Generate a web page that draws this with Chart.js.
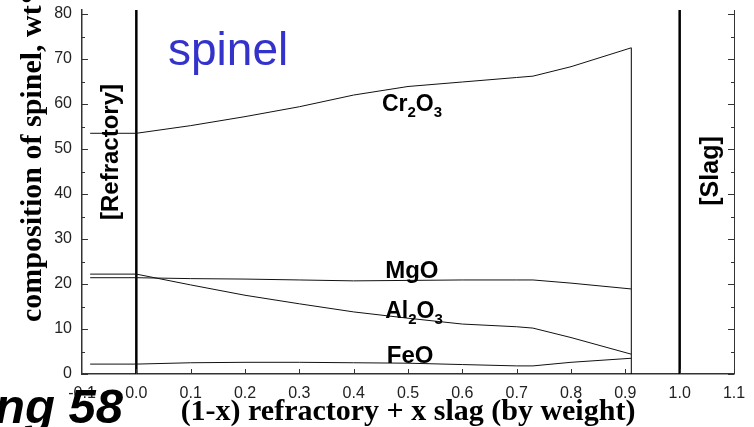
<!DOCTYPE html>
<html>
<head>
<meta charset="utf-8">
<title>Spinel composition</title>
<script src="https://cdn.jsdelivr.net/npm/chart.js@4.4.0/dist/chart.umd.min.js"></script>
<style>
  html, body { margin: 0; padding: 0; background: #fff; }
  #wrap { width: 754px; height: 427px; }
</style>
</head>
<body>
<div id="wrap"><canvas id="spinelChart" width="754" height="427"></canvas></div>
<script>
// weight fraction of slag in the mixture
const xSteps = [-0.085, 0.0, 0.1, 0.2, 0.3, 0.4, 0.5, 0.6, 0.7, 0.73, 0.8, 0.911];
// spinel composition, wt%
const cr2o3 = [53.5, 53.5, 55.2, 57.2, 59.4, 62.0, 63.9, 64.9, 65.9, 66.2, 68.3, 72.5];
const mgo   = [21.4, 21.4, 21.2, 21.1, 20.9, 20.7, 20.8, 20.9, 20.9, 20.9, 20.2, 18.9];
const al2o3 = [22.2, 22.2, 19.8, 17.5, 15.6, 13.8, 12.4, 11.1, 10.5, 10.2, 8.1, 4.4];
const feo   = [2.2, 2.2, 2.5, 2.6, 2.6, 2.5, 2.4, 2.1, 1.8, 1.8, 2.6, 3.5];

const xTicks = [-0.1, 0.0, 0.1, 0.2, 0.3, 0.4, 0.5, 0.6, 0.7, 0.8, 0.9, 1.0, 1.1];
const yTicks = [0, 10, 20, 30, 40, 50, 60, 70, 80];
const yMinor = [5, 15, 25, 35, 45, 55, 65, 75];
const yMax = 80.9;

const refractoryX = 0.0;
const slagX = 1.0;
const lastX = 0.911;

const pts = (xs, ys) => xs.map((x, i) => ({ x: x, y: ys[i] }));

// formula labels: [text, subscript?] pieces, anchored in data units
const formulaLabels = [
  { parts: [["Cr", 0], ["2", 1], ["O", 0], ["3", 1]], x: 0.452, y: 58.5, size: 23 },
  { parts: [["MgO", 0]], x: 0.458, y: 21.3, size: 24 },
  { parts: [["Al", 0], ["2", 1], ["O", 0], ["3", 1]], x: 0.458, y: 12.4, size: 23 },
  { parts: [["FeO", 0]], x: 0.461, y: 2.4, size: 24 }
];

function drawFormula(ctx, lbl, px, py) {
  let cx = px;
  lbl.parts.forEach(([t, sub]) => {
    const size = sub ? Math.round(lbl.size * 0.64) : lbl.size;
    ctx.font = "bold " + size + "px 'Liberation Sans', Arial, sans-serif";
    ctx.fillText(t, cx, sub ? py + 6 : py);
    cx += ctx.measureText(t).width;
  });
}

const decorations = {
  id: "decorations",
  afterDatasetsDraw(chart) {
    const { ctx, chartArea: a, scales: { x, y } } = chart;
    ctx.save();
    ctx.strokeStyle = "#333";
    ctx.lineWidth = 1;
    ctx.beginPath();
    // right-hand axis
    ctx.moveTo(a.right + 0.5, a.top);
    ctx.lineTo(a.right + 0.5, a.bottom);
    // inward ticks on both y axes
    yTicks.forEach(v => {
      const py = Math.round(y.getPixelForValue(v)) + 0.5;
      ctx.moveTo(a.left, py); ctx.lineTo(a.left + 6, py);
      ctx.moveTo(a.right, py); ctx.lineTo(a.right - 6, py);
    });
    yMinor.forEach(v => {
      const py = Math.round(y.getPixelForValue(v)) + 0.5;
      ctx.moveTo(a.left, py); ctx.lineTo(a.left + 3, py);
      ctx.moveTo(a.right, py); ctx.lineTo(a.right - 3, py);
    });
    // inward ticks on the x axis
    xTicks.slice(1, -1).forEach(v => {
      const px = Math.round(x.getPixelForValue(v)) + 0.5;
      ctx.moveTo(px, a.bottom); ctx.lineTo(px, a.bottom - 5);
    });
    ctx.stroke();
    ctx.restore();
  },
  afterDraw(chart) {
    const { ctx, scales: { x, y } } = chart;
    ctx.save();
    ctx.textBaseline = "alphabetic";

    ctx.fillStyle = "#3333cc";
    ctx.font = "46px 'Liberation Sans', Arial, sans-serif";
    ctx.textAlign = "left";
    ctx.fillText("spinel", 168, 65);

    ctx.fillStyle = "#000";
    formulaLabels.forEach(l => drawFormula(ctx, l, x.getPixelForValue(l.x), y.getPixelForValue(l.y)));

    // region markers
    ctx.textAlign = "center";
    ctx.save();
    ctx.translate(118, 152);
    ctx.rotate(-Math.PI / 2);
    ctx.font = "bold 24px 'Liberation Sans', Arial, sans-serif";
    ctx.fillText("[Refractory]", 0, 0);
    ctx.restore();
    ctx.save();
    ctx.translate(718, 171);
    ctx.rotate(-Math.PI / 2);
    ctx.font = "bold 25px 'Liberation Sans', Arial, sans-serif";
    ctx.fillText("[Slag]", 0, 0);
    ctx.restore();

    // axis titles
    ctx.font = "bold 30px 'Liberation Serif', 'Times New Roman', serif";
    ctx.fillText("(1-x) refractory + x slag (by weight)", 408, 420);
    ctx.save();
    ctx.translate(41, 322);
    ctx.rotate(-Math.PI / 2);
    ctx.textAlign = "left";
    ctx.fillText("composition of spinel, wt%", 0, 0);
    ctx.restore();

    ctx.textAlign = "right";
    ctx.font = "italic bold 49px 'Liberation Sans', Arial, sans-serif";
    ctx.fillText("ng 58", 123, 423);
    ctx.restore();
  }
};

const curve = (label, ys) => ({
  label: label,
  data: pts(xSteps, ys),
  borderColor: "#111",
  borderWidth: 1,
  pointRadius: 0,
  showLine: true,
  tension: 0
});

const vline = (xv, top, width) => ({
  data: [{ x: xv, y: 0 }, { x: xv, y: top }],
  borderColor: "#000",
  borderWidth: width,
  pointRadius: 0,
  showLine: true
});

new Chart(document.getElementById("spinelChart"), {
  type: "scatter",
  data: {
    datasets: [
      curve("Cr2O3", cr2o3),
      curve("MgO", mgo),
      curve("Al2O3", al2o3),
      curve("FeO", feo),
      vline(refractoryX, yMax, 2.5),
      vline(slagX, yMax, 2.5),
      vline(lastX, cr2o3[cr2o3.length - 1], 1)
    ]
  },
  options: {
    responsive: false,
    animation: false,
    devicePixelRatio: 1,
    layout: { padding: { left: 0, top: 10, right: 20, bottom: 0 } },
    plugins: { legend: { display: false }, tooltip: { enabled: false } },
    scales: {
      x: {
        type: "linear",
        min: -0.1,
        max: 1.1,
        afterBuildTicks: s => { s.ticks = xTicks.map(v => ({ value: v })); },
        afterFit: s => { s.height = 53; s.paddingLeft = 0; s.paddingRight = 0; },
        grid: { drawOnChartArea: false, drawTicks: false },
        border: { display: true, color: "#333", width: 1.5 },
        ticks: {
          padding: 10,
          maxRotation: 0,
          autoSkip: false,
          color: "#222",
          font: { family: "'Liberation Sans', Arial, sans-serif", size: 16 },
          callback: v => v.toFixed(1)
        }
      },
      y: {
        min: 0,
        max: yMax,
        afterBuildTicks: s => { s.ticks = yTicks.map(v => ({ value: v })); },
        afterFit: s => { s.width = 82; s.paddingTop = 0; s.paddingBottom = 0; },
        grid: { drawOnChartArea: false, drawTicks: false },
        border: { display: true, color: "#333", width: 1.5 },
        ticks: {
          padding: 10,
          color: "#222",
          font: { family: "'Liberation Sans', Arial, sans-serif", size: 16 }
        }
      }
    }
  },
  plugins: [decorations]
});
</script>
</body>
</html>
